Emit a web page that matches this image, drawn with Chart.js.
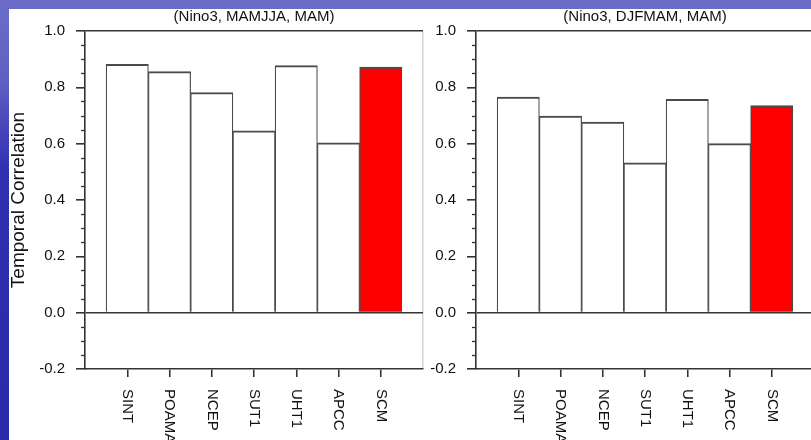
<!DOCTYPE html>
<html>
<head>
<meta charset="utf-8">
<script src="https://cdn.jsdelivr.net/npm/chart.js@4.4.1/dist/chart.umd.min.js"></script>
<style>
html, body { margin: 0; padding: 0; width: 811px; height: 440px; overflow: hidden; }
body { position: relative; background: linear-gradient(to bottom, #6c6cc8 0px, #6060c2 80px, #3030b0 170px, #2a2aa8 440px); }
#sheet { position: absolute; left: 9px; top: 9px; width: 802px; height: 431px; background: #ffffff; }
canvas { position: absolute; }
#c1 { left: 9px; top: 9px; }
#c2 { left: 425px; top: 9px; }
</style>
</head>
<body>
<div id="sheet"></div>
<canvas id="c1" width="416" height="431"></canvas>
<canvas id="c2" width="390" height="431"></canvas>
<script>
// ---- data ----
const categories = ['SINT', 'POAMA', 'NCEP', 'SUT1', 'UHT1', 'APCC', 'SCM'];
const corrMAMJJA = [0.882, 0.856, 0.781, 0.646, 0.877, 0.603, 0.872];
const corrDJFMAM = [0.765, 0.698, 0.677, 0.532, 0.757, 0.600, 0.735];
const yTicks = [-0.2, 0.0, 0.2, 0.4, 0.6, 0.8, 1.0];
const yMinorTicks = [-0.15, -0.1, -0.05, 0.05, 0.1, 0.15, 0.25, 0.3, 0.35, 0.45, 0.5, 0.55, 0.65, 0.7, 0.75, 0.85, 0.9, 0.95];
const panelTitles = ['(Nino3, MAMJJA, MAM)', '(Nino3, DJFMAM, MAM)'];
const yAxisTitle = 'Temporal Correlation';
const highlighted = 'SCM';

const FONT = "'Liberation Sans', Arial, Helvetica, sans-serif";
const INK = '#111111';
const LINE = '#333333';
const CLEAR = 'rgba(0,0,0,0)';

const decorPlugin = {
  id: 'decor',
  afterDraw(chart) {
    const ctx = chart.ctx;
    const ys = chart.scales.y;
    const xs = chart.scales.x;
    ctx.save();
    // minor y ticks
    ctx.strokeStyle = LINE;
    ctx.lineWidth = 1.3;
    yMinorTicks.forEach(v => {
      const py = Math.round(ys.getPixelForValue(v)) + 0.5;
      ctx.beginPath();
      ctx.moveTo(ys.right - 4, py);
      ctx.lineTo(ys.right, py);
      ctx.stroke();
    });
    // x category labels, rotated clockwise
    ctx.fillStyle = INK;
    ctx.font = '15px ' + FONT;
    ctx.textAlign = 'left';
    ctx.textBaseline = 'middle';
    categories.forEach((c, i) => {
      const px = xs.getPixelForValue(i);
      ctx.save();
      ctx.translate(px, xs.top + 20);
      ctx.rotate(Math.PI / 2);
      ctx.fillText(c, 0, 0);
      ctx.restore();
    });
    ctx.restore();
  }
};

function makeChart(id, values, title, yWidth, padRight, yTitle) {
  return new Chart(document.getElementById(id), {
    type: 'bar',
    data: {
      datasets: [{
        data: values.map((v, i) => ({ x: i, y: v })),
        backgroundColor: c => categories[c.dataIndex] === highlighted ? '#ff0000' : '#ffffff',
        borderColor: '#4a4a4a',
        borderWidth: { top: 2, left: 1.2, right: 1.2, bottom: 0 },
        barPercentage: 1,
        categoryPercentage: 1
      }]
    },
    options: {
      responsive: false,
      animation: false,
      devicePixelRatio: 1,
      layout: { padding: { top: 0, left: 0, right: padRight, bottom: 0 } },
      plugins: {
        legend: { display: false },
        tooltip: { enabled: false },
        title: {
          display: true,
          text: title,
          fullSize: false,
          color: INK,
          font: { family: FONT, size: 15, weight: 'normal', lineHeight: 1.1 },
          padding: { top: 0, bottom: 5.5 }
        }
      },
      scales: {
        x: {
          type: 'linear',
          min: -1,
          max: categories.length,
          offset: false,
          afterBuildTicks: s => {
            const t = [];
            for (let i = -1; i <= categories.length; i++) t.push({ value: i });
            s.ticks = t;
          },
          afterFit: s => { s.height = 71; },
          ticks: { display: false },
          grid: {
            offset: false,
            drawOnChartArea: true,
            color: c => (c.tick && c.tick.value === categories.length) ? '#d4d4d4' : CLEAR,
            lineWidth: 1.5,
            tickLength: 8,
            tickWidth: 1.6,
            tickColor: c => (c.tick && c.tick.value >= 0 && c.tick.value < categories.length) ? LINE : CLEAR
          },
          border: { display: true, color: LINE, width: 1.6 }
        },
        y: {
          min: -0.2,
          max: 1.0,
          afterBuildTicks: s => { s.ticks = yTicks.map(v => ({ value: v })); },
          afterFit: s => { s.width = yWidth; },
          ticks: {
            callback: v => Number(v).toFixed(1),
            color: INK,
            font: { family: FONT, size: 15 },
            padding: 11
          },
          grid: {
            color: c => (c.tick && (Math.abs(c.tick.value) < 1e-9 || Math.abs(c.tick.value - 1) < 1e-9)) ? LINE : CLEAR,
            lineWidth: 1.6,
            tickLength: 9,
            tickWidth: 1.6,
            tickColor: LINE
          },
          border: { display: true, color: LINE, width: 1.6 },
          title: {
            display: !!yTitle,
            text: yTitle || '',
            color: INK,
            font: { family: FONT, size: 19, lineHeight: 1 },
            padding: { top: 0, bottom: 0 }
          }
        }
      }
    },
    plugins: [decorPlugin]
  });
}

makeChart('c1', corrMAMJJA, panelTitles[0], 76, 2, yAxisTitle);
makeChart('c2', corrDJFMAM, panelTitles[1], 51, 1, null);
</script>
</body>
</html>
